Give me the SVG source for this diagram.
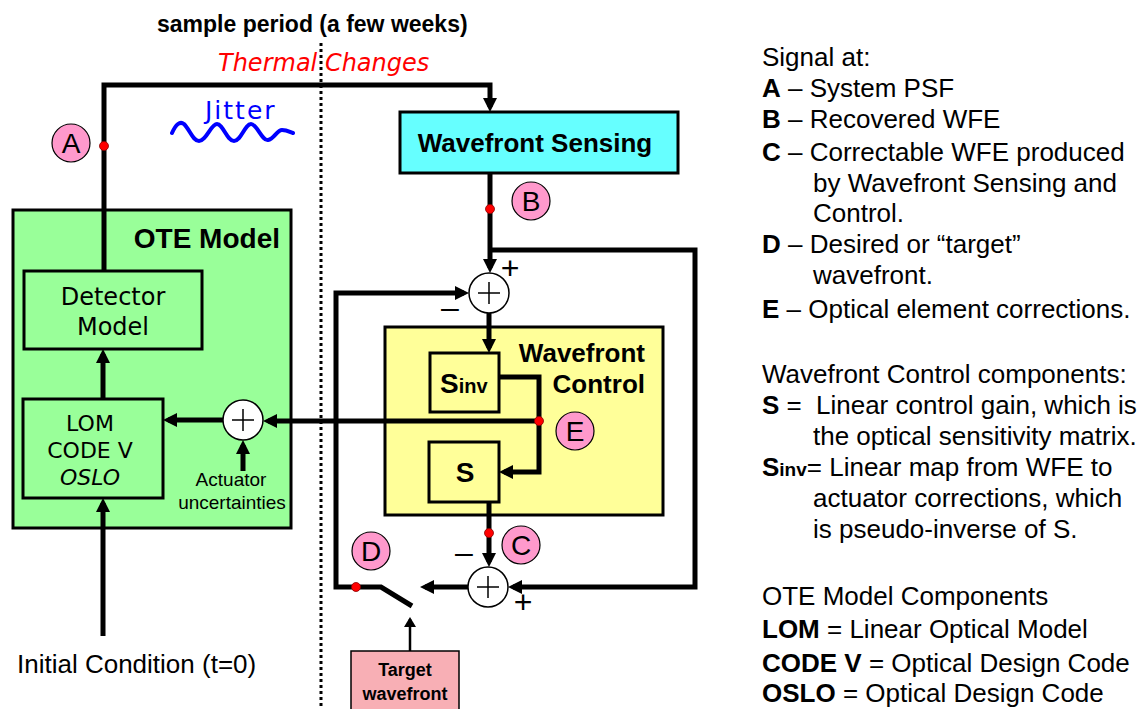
<svg xmlns="http://www.w3.org/2000/svg" width="1144" height="709" viewBox="0 0 1144 709">
<defs>
<style>
.box{stroke:#000;stroke-width:3}
.ln{fill:none;stroke:#000;stroke-width:5;stroke-linejoin:miter}
.sum{fill:#fff;stroke:#000;stroke-width:1.5}
.plus{stroke:#000;stroke-width:1.5}
.lbl{fill:#FF99CC;stroke:#000;stroke-width:1.2}
.dot{fill:#FF0000;stroke:#800;stroke-width:0.8}
.a{font-family:"Liberation Sans",Arial,sans-serif;fill:#000}
.b{font-family:"Liberation Sans",Arial,sans-serif;font-weight:bold;fill:#000}
.c{font-family:"DejaVu Sans",sans-serif;fill:#000}
.sg{font-family:"Liberation Sans",Arial,sans-serif;font-size:32px;fill:#000;text-anchor:middle}
.lt{font-family:"Liberation Sans",Arial,sans-serif;font-size:26px;fill:#000}
</style>
<marker id="ah" viewBox="0 0 14 14" refX="9" refY="7" markerWidth="14" markerHeight="14" markerUnits="userSpaceOnUse" orient="auto"><path d="M0,0 L14,7 L0,14 z" fill="#000"/></marker>
<marker id="ahs" viewBox="0 0 10 12" refX="8" refY="6" markerWidth="10" markerHeight="12" markerUnits="userSpaceOnUse" orient="auto"><path d="M0,0 L10,6 L0,12 z" fill="#000"/></marker>
</defs>
<rect width="1144" height="709" fill="#fff"/>

<g id="title">
<text class="b" x="157" y="32" font-size="23">sample period (a few weeks)</text>
<text x="218" y="71" font-family="'Comic Sans MS','DejaVu Sans',sans-serif" font-style="italic" font-size="24" fill="#FF0000">Thermal Changes</text>
</g>

<line id="period-divider" x1="321" y1="43" x2="321" y2="709" stroke="#000" stroke-width="3" stroke-dasharray="3 3"/>

<g id="jitter">
<text x="205" y="119" font-family="'Comic Sans MS','DejaVu Sans',sans-serif" font-size="25" letter-spacing="2" fill="#0000FF">Jitter</text>
<path d="M172,133 C176,124 180,121 184,124 C190,130 193,141 199,141 C206,141 211,124 217,124 C223,124 227,141 234,141 C241,141 245,124 251,124 C257,124 262,141 268,140 C274,139 277,130 282,130 C287,130 290,132 293,133" fill="none" stroke="#0000FF" stroke-width="4" stroke-linecap="round"/>
</g>

<g id="ote-model">
<rect class="box" x="13" y="210" width="278" height="318" fill="#99FF99"/>
<text class="b" x="280" y="248" font-size="28" text-anchor="end">OTE Model</text>
</g>
<g id="detector-model">
<rect class="box" x="24" y="271" width="178" height="78" fill="#99FF99" stroke-width="2"/>
<text class="c" x="113" y="305" font-size="24" text-anchor="middle">Detector</text>
<text class="c" x="113" y="335" font-size="24" text-anchor="middle">Model</text>
</g>
<g id="lom">
<rect class="box" x="23" y="399" width="140" height="99" fill="#99FF99" stroke-width="2"/>
<text class="c" x="90" y="431" font-size="22" text-anchor="middle">LOM</text>
<text class="c" x="90" y="458" font-size="22" text-anchor="middle">CODE V</text>
<text class="c" x="90" y="485" font-size="22" text-anchor="middle" font-style="italic">OSLO</text>
</g>
<g id="actuator-uncertainties">
<text class="a" x="231" y="486" font-size="19" text-anchor="middle">Actuator</text>
<text class="a" x="232" y="509" font-size="19" text-anchor="middle">uncertainties</text>
</g>
<g id="initial-condition">
<text class="a" x="17" y="673" font-size="26">Initial Condition (t=0)</text>
</g>

<g id="wavefront-sensing">
<rect class="box" x="400" y="112" width="278" height="61" fill="#66FFFF"/>
<text class="b" x="535" y="152" font-size="26" text-anchor="middle">Wavefront Sensing</text>
</g>
<g id="wavefront-control">
<rect class="box" x="385" y="327" width="278" height="188" fill="#FFFF99"/>
<text class="b" x="645" y="362" font-size="26" text-anchor="end">Wavefront</text>
<text class="b" x="645" y="393" font-size="26" text-anchor="end">Control</text>
</g>
<g id="sinv">
<rect class="box" x="430" y="353" width="69" height="59" fill="#FFFF99" stroke-width="2"/>
<text class="b" x="440" y="393" font-size="28">S<tspan font-size="20">inv</tspan></text>
</g>
<g id="s-block">
<rect class="box" x="429" y="442" width="70" height="60" fill="#FFFF99" stroke-width="2"/>
<text class="b" x="465" y="482" font-size="28" text-anchor="middle">S</text>
</g>
<g id="target-wavefront">
<rect x="351" y="651" width="108" height="62" fill="#F8AFB5" stroke="#000" stroke-width="1.5"/>
<text class="b" x="405" y="676" font-size="18" text-anchor="middle">Target</text>
<text class="b" x="405" y="700" font-size="18" text-anchor="middle">wavefront</text>
</g>

<g id="connectors">
<path class="ln" d="M104,271 V85 H490 V107" marker-end="url(#ah)"/>
<path class="ln" d="M490,173 V268" marker-end="url(#ah)"/>
<path class="ln" d="M490,250 H695 V587 H513" marker-end="url(#ah)"/>
<path class="ln" d="M489,313 V348" marker-end="url(#ah)"/>
<path class="ln" d="M499,377 H539 V472 H504" marker-end="url(#ah)"/>
<path class="ln" d="M539,421 H268" marker-end="url(#ah)"/>
<path class="ln" d="M223,420 H168" marker-end="url(#ah)"/>
<path class="ln" d="M243,471 V445" marker-end="url(#ah)"/>
<path class="ln" d="M103,398 V354" marker-end="url(#ah)"/>
<path class="ln" d="M103,636 V503" marker-end="url(#ah)"/>
<path class="ln" d="M489,502 V562" marker-end="url(#ah)"/>
<path class="ln" d="M468,587 H425" marker-end="url(#ah)"/>
<path class="ln" d="M412,606 L381,587 H336 V293 H464" marker-end="url(#ah)"/>
<path d="M410,651 V619" fill="none" stroke="#000" stroke-width="2.5" marker-end="url(#ahs)"/>
</g>

<g id="sum-1">
<circle class="sum" cx="489" cy="293" r="20"/>
<path class="plus" d="M478,293 H500 M489,282 V304"/>
<text class="sg" x="510" y="279">+</text>
<text class="sg" x="450" y="318">–</text>
</g>
<g id="sum-2">
<circle class="sum" cx="488" cy="587" r="20"/>
<path class="plus" d="M477,587 H499 M488,576 V598"/>
<text class="sg" x="464" y="563">–</text>
<text class="sg" x="523" y="613">+</text>
</g>
<g id="sum-3">
<circle class="sum" cx="243" cy="420" r="20"/>
<path class="plus" d="M232,420 H254 M243,409 V431"/>
</g>

<g id="signal-points">
<circle class="dot" cx="104" cy="146" r="4.5"/>
<circle class="dot" cx="490" cy="209" r="4.5"/>
<circle class="dot" cx="539" cy="421" r="4.5"/>
<circle class="dot" cx="489" cy="533" r="4.5"/>
<circle class="dot" cx="356" cy="587" r="4.5"/>
</g>
<g id="label-A"><circle class="lbl" cx="71" cy="143" r="19"/><text class="a" x="71" y="153" font-size="28" text-anchor="middle">A</text></g>
<g id="label-B"><circle class="lbl" cx="531" cy="201" r="19"/><text class="a" x="531" y="211" font-size="28" text-anchor="middle">B</text></g>
<g id="label-E"><circle class="lbl" cx="575" cy="431" r="19"/><text class="a" x="575" y="441" font-size="28" text-anchor="middle">E</text></g>
<g id="label-C"><circle class="lbl" cx="521" cy="545" r="19"/><text class="a" x="521" y="555" font-size="28" text-anchor="middle">C</text></g>
<g id="label-D"><circle class="lbl" cx="371" cy="551" r="19"/><text class="a" x="371" y="561" font-size="28" text-anchor="middle">D</text></g>

<g id="legend" class="lt">
<text x="762" y="66">Signal at:</text>
<text x="762" y="97"><tspan font-weight="bold">A</tspan> – System PSF</text>
<text x="762" y="128"><tspan font-weight="bold">B</tspan> – Recovered WFE</text>
<text x="762" y="161"><tspan font-weight="bold">C</tspan> – Correctable WFE produced</text>
<text x="813" y="192">by Wavefront Sensing and</text>
<text x="813" y="222">Control.</text>
<text x="762" y="253"><tspan font-weight="bold">D</tspan> – Desired or “target”</text>
<text x="813" y="284">wavefront.</text>
<text x="762" y="318"><tspan font-weight="bold">E</tspan> – Optical element corrections.</text>
<text x="762" y="383">Wavefront Control components:</text>
<text x="762" y="414"><tspan font-weight="bold">S</tspan> =<tspan x="816">Linear control gain, which is</tspan></text>
<text x="813" y="445">the optical sensitivity matrix.</text>
<text x="762" y="476"><tspan font-weight="bold">S</tspan><tspan font-weight="bold" font-size="19">inv</tspan>= Linear map from WFE to</text>
<text x="813" y="507">actuator corrections, which</text>
<text x="813" y="538">is pseudo-inverse of S.</text>
<text x="762" y="605">OTE Model Components</text>
<text x="762" y="638"><tspan font-weight="bold">LOM</tspan> = Linear Optical Model</text>
<text x="762" y="672"><tspan font-weight="bold">CODE V</tspan> = Optical Design Code</text>
<text x="762" y="702"><tspan font-weight="bold">OSLO</tspan> = Optical Design Code</text>
</g>
</svg>
